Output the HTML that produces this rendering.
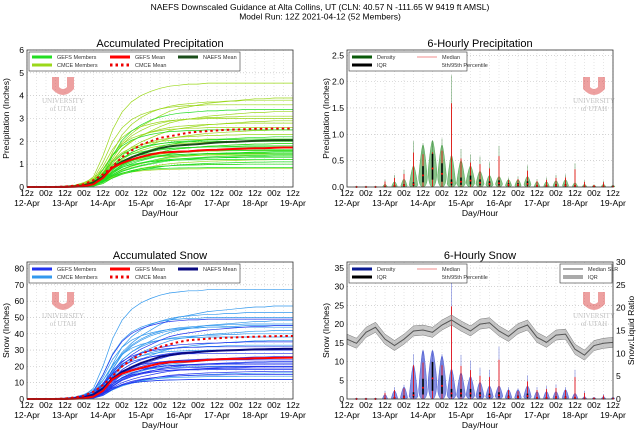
<!DOCTYPE html>
<html><head><meta charset="utf-8"><style>
html,body{margin:0;padding:0;background:#fff;width:640px;height:433px;overflow:hidden}
svg{display:block;font-family:"Liberation Sans","DejaVu Sans",sans-serif}
</style></head><body>
<svg id="c" width="640" height="433" viewBox="0 0 640 433">
<text x="320" y="10" font-size="8.5" text-anchor="middle">NAEFS Downscaled Guidance at Alta Collins, UT (CLN: 40.57 N -111.65 W 9419 ft AMSL)</text>
<text x="320" y="19.5" font-size="8.5" text-anchor="middle">Model Run: 12Z 2021-04-12 (52 Members)</text>
</svg>
<script>
// ---- data ----
const tickHours=["12z","00z","12z","00z","12z","00z","12z","00z","12z","00z","12z","00z","12z","00z","12z"];
const dayLabels=["12-Apr","13-Apr","14-Apr","15-Apr","16-Apr","17-Apr","18-Apr","19-Apr"];
const profileFast=[0,0,0,0,0,.01,.03,.1,.3,.55,.72,.82,.88,.92,.95,.97,.98,.99,.99,1,1,1,1,1,1,1,1,1,1];
const profileMid=[0,0,0,0,0,0,.01,.04,.15,.4,.6,.72,.8,.86,.9,.93,.95,.96,.97,.98,.98,.99,.99,1,1,1,1,1,1];
const profileSlow=[0,0,0,0,.01,.02,.05,.1,.2,.35,.5,.6,.68,.74,.8,.85,.88,.9,.92,.94,.95,.96,.97,.98,.99,.99,1,1,1];
const precipGefsTotals=[0.85,1.0,1.1,1.2,1.3,1.4,1.45,1.5,1.55,1.6,1.65,1.7,1.75,1.8,1.9,2.0,2.1,2.2,2.5,3.4,1.35];
const precipCmceTotals=[0.8,1.0,1.2,1.4,1.6,1.9,2.1,2.3,2.5,2.6,2.8,2.9,3.0,3.1,3.3,3.6,3.8,3.9,4.55,2.0,1.5];
const precipGefsMean=[0,0,0,0,0,0.01,0.04,0.12,0.4,0.85,1.05,1.2,1.32,1.42,1.5,1.53,1.55,1.56,1.6,1.62,1.63,1.65,1.67,1.68,1.7,1.7,1.72,1.73,1.73];
const precipCmceMean=[0,0,0,0,0.02,0.06,0.12,0.3,0.55,0.9,1.3,1.6,1.85,2.0,2.15,2.22,2.3,2.38,2.42,2.45,2.48,2.5,2.52,2.53,2.55,2.55,2.56,2.56,2.56];
const precipNaefsMean=[0,0,0,0,0.01,0.03,0.08,0.2,0.45,0.85,1.1,1.3,1.45,1.58,1.7,1.78,1.82,1.85,1.88,1.92,1.95,1.97,1.98,2.0,2.02,2.03,2.04,2.05,2.05];
const snowGefsTotals=[12,15,17,18,19,20,21,22,23,24,25,26,28,30,31,32,35,45,49,20];
const snowCmceTotals=[12,14,16,20,22,25,30,33,36,38,40,42,44,46,48,50,53,57,67,45];
const snowGefsMean=[0,0,0,0,0,0.1,0.5,1.5,5,12,15.5,17.5,19,20.5,21.8,22.5,22.8,23,23.5,24,24.3,24.5,24.7,24.8,25,25.1,25.2,25.3,25.4];
const snowCmceMean=[0,0,0,0,0.3,1,2,4.5,8.5,14,20,24,27.5,30,32,33.5,35,36,36.5,37,37.3,37.6,37.8,38,38.2,38.4,38.5,38.6,38.6];
const snowNaefsMean=[0,0,0,0,0.1,0.4,1.1,2.8,6.5,12.5,16.5,19.5,22,24,25.8,27,27.8,28.3,28.8,29.3,29.6,29.8,30,30.2,30.4,30.5,30.6,30.7,30.7];
const precipP95=[0.01,0.01,0.01,0.14,0.23,0.33,0.87,0.83,0.88,0.92,2.12,0.72,0.62,0.58,0.47,0.78,0.18,0.2,0.41,0.15,0.18,0.23,0.24,0.45,0.13,0.05,0.12,0.04];
const precipExtent=[0.01,0.01,0.01,0.05,0.1,0.15,0.4,0.8,0.88,0.8,0.6,0.5,0.4,0.3,0.22,0.2,0.14,0.14,0.2,0.1,0.1,0.12,0.14,0.08,0.05,0.03,0.05,0.03];
const precipMedian=[0,0,0,0.01,0.02,0.03,0.05,0.22,0.35,0.25,0.08,0.1,0.12,0.08,0.06,0.07,0.04,0.04,0.06,0.02,0.02,0.03,0.03,0.02,0.01,0.01,0.01,0.01];
const snowP95=[0.3,0.3,0.3,2.2,3.2,3.8,12,13,13,12,33,11.8,10.3,8.3,7.8,14,3.2,2.8,6.3,3.2,3.5,3.9,3.2,7.8,2.2,0.5,1.3,0.6];
const snowExtent=[0.2,0.2,0.2,1.2,2.2,3.2,9,13,13,11.5,8,7,6,4.5,3.5,3.5,2.5,2.5,3.5,2,2,2,2.5,1.5,0.6,0.4,0.6,0.4];
const snowMedian=[0,0,0,0.1,0.3,0.5,1,3,5.5,3.5,1.5,1.5,1.5,1,0.8,1,0.5,0.5,0.8,0.3,0.3,0.4,0.4,0.3,0.1,0.1,0.1,0.1];
const slrMedian=[13.1,12.2,14.6,15.7,13.1,11.7,13.1,14.9,15.1,14.6,16.2,17.3,16.0,14.9,16.4,16.7,14.9,13.7,15.4,16.2,13.5,12.4,14.0,14.2,10.9,9.6,11.7,12.2,12.4];

const svg=document.getElementById('c');
const NS="http://www.w3.org/2000/svg";
function mk(tag,attrs,parent){const e=document.createElementNS(NS,tag);for(const k in attrs)e.setAttribute(k,attrs[k]);(parent||svg).appendChild(e);return e;}
function txt(x,y,s,size,anchor,parent,extra){const t=mk('text',Object.assign({x:x,y:y,'font-size':size,'text-anchor':anchor||'middle'},extra||{}),parent);t.textContent=s;return t;}
const profiles=[profileFast,profileMid,profileSlow];
const FS=8.6;

function panel(o){
  const g=mk('g',{});
  
  
  const X=i=>o.x0+(o.x1-o.x0)*i/28;
  const Y=v=>o.y1-(o.y1-o.y0)*v/o.ymax;
  o.X=X;o.Y=Y;
  mk('rect',{x:o.x0,y:o.y0,width:o.x1-o.x0,height:o.y1-o.y0,fill:'#fff'},g);
  for(let i=0;i<=28;i+=1){mk('line',{x1:X(i),x2:X(i),y1:o.y0,y2:o.y1,stroke:'#ccc','stroke-width':0.5,'stroke-dasharray':'1,2'},g);}
  o.yticks.forEach(v=>{mk('line',{x1:o.x0,x2:o.x1,y1:Y(v),y2:Y(v),stroke:'#bbb','stroke-width':0.6,'stroke-dasharray':'1,2'},g);
    const t=txt(o.x0-3,Y(v)+3,o.fmt(v),FS,'end',g);});
  tickHours.forEach((h,k)=>{const t=txt(X(k*2),o.y1+9,h,FS,'middle',g);});
  dayLabels.forEach((d,k)=>{const t=txt(X(k*4),o.y1+19,d,FS,'middle',g);});
  const xt=txt((o.x0+o.x1)/2,o.y1+29,'Day/Hour',FS,'middle',g);
  
  const yt=txt(0,0,o.ylabel,FS,'middle',g,{transform:`translate(${o.x0-18},${(o.y0+o.y1)/2}) rotate(-90)`});
  
  const tt=txt((o.x0+o.x1)/2,o.y0-3,o.title,11,'middle',g);
  
  const wm=mk('g',{transform:`translate(${o.wx},${o.wy})`,opacity:0.5},g);
  
  mk('path',{d:'M0,0 h7 v10 q4,4 8,0 v-10 h7 v12 q-11,12 -22,0 z',fill:'#d44'},wm);
  txt(11,26,'UNIVERSITY',7,'middle',wm,{fill:'#888','font-family':'Liberation Serif,serif'});
  txt(11,34,'of UTAH',7,'middle',wm,{fill:'#888','font-family':'Liberation Serif,serif'});
  o.g=g;
  return o;
}
function frame(o){mk('rect',{x:o.x0,y:o.y0,width:o.x1-o.x0,height:o.y1-o.y0,fill:'none',stroke:'#333','stroke-width':0.8},o.g);}
function series(o,vals,color,w,dash,name){
  const d=vals.map((v,i)=>(i?'L':'M')+o.X(i).toFixed(1)+','+o.Y(v).toFixed(1)).join('');
  const p=mk('path',{d:d,fill:'none',stroke:color,'stroke-width':w},o.g);
  if(dash)p.setAttribute('stroke-dasharray',dash);
  
  
}
function members(o,totals,color,name){
  totals.forEach((t,k)=>{const prof=profiles[k%3];series(o,prof.map(f=>f*t),color,0.7,null,name);});
}
function legend(o,items,x,y,w,h){
  const lg=mk('g',{},o.g);
  
  mk('rect',{x:x,y:y,width:w,height:h,fill:'#fff',stroke:'#333','stroke-width':0.6},lg);
  items.forEach(it=>{
    const e=mk('g',{},lg);
    
    const l=mk('line',{x1:it.x,x2:it.x+20,y1:it.y,y2:it.y,stroke:it.c,'stroke-width':it.w||3},e);
    if(it.dash)l.setAttribute('stroke-dasharray',it.dash);
    txt(it.x+25,it.y+2,it.t,5.5,'start',e,{fill:'#333'});
  });
}
function violins(o,p95,ext,med,fill,lineC){
  p95.forEach((v,k)=>{
    const i=k+1,cx=o.X(i);
    const vg=mk('g',{},o.g);
    
    const e=ext[k],m=med[k];
    const hw=Math.min(4.6,1.2+Math.sqrt(e/o.ymax)*9);
    const yb=o.Y(0),yt=o.Y(e),ym=o.Y(m);
    mk('path',{d:`M${cx},${yb} C${cx-hw},${yb} ${cx-hw},${ym} ${cx-hw*0.9},${ym} C${cx-hw*0.6},${(ym+yt)/2} ${cx-1},${yt} ${cx},${yt} C${cx+1},${yt} ${cx+hw*0.6},${(ym+yt)/2} ${cx+hw*0.9},${ym} C${cx+hw},${ym} ${cx+hw},${yb} ${cx},${yb}Z`,fill:fill,'fill-opacity':0.6,stroke:fill,'stroke-width':0.4},vg);
    mk('line',{x1:cx,x2:cx,y1:yb,y2:o.Y(v),stroke:lineC,'stroke-width':0.8,opacity:0.5},vg);
    mk('line',{x1:cx,x2:cx,y1:yb,y2:o.Y(v*0.75),stroke:'#e00','stroke-width':0.8},vg);
    mk('line',{x1:cx,x2:cx,y1:o.Y(m*0.4),y2:o.Y(m*1.8),stroke:'#000','stroke-width':1.6},vg);
    mk('circle',{cx:cx,cy:o.Y(m),r:1,fill:'#f00'},vg);
  });
}

const p1=panel({name:'accumulated-precipitation-panel',x0:27,x1:293,y0:50,y1:187,ymax:6,yticks:[0,1,2,3,4,5,6],fmt:v=>v,ylabel:'Precipitation (Inches)',title:'Accumulated Precipitation',wx:52,wy:77});
members(p1,precipCmceTotals,'#9bd81a','cmce-member-line');
members(p1,precipGefsTotals,'#22dd22','gefs-member-line');
series(p1,precipNaefsMean,'#1a4d1a',2,null,'naefs-mean-line');
series(p1,precipGefsMean,'#f00',2,null,'gefs-mean-line');
series(p1,precipCmceMean,'#e00',2,'2.5,3','cmce-mean-line');
legend(p1,[{x:32,y:57,t:'GEFS Members',c:'#22dd22'},{x:32,y:65,t:'CMCE Members',c:'#9bd81a'},{x:110,y:57,t:'GEFS Mean',c:'#f00'},{x:110,y:65,t:'CMCE Mean',c:'#e00',dash:'2.5,3'},{x:178,y:57,t:'NAEFS Mean',c:'#1a4d1a'}],29,52,211,19);
frame(p1);

const p2=panel({name:'six-hourly-precipitation-panel',x0:347,x1:613,y0:50,y1:187,ymax:2.6,yticks:[0,0.5,1,1.5,2,2.5],fmt:v=>v.toFixed(1),ylabel:'Precipitation (Inches)',title:'6-Hourly Precipitation',wx:583,wy:77});
violins(p2,precipP95,precipExtent,precipMedian,'#3a9a3a','#2a7a2a');
legend(p2,[{x:352,y:57,t:'Density',c:'#0a5a0a'},{x:352,y:65,t:'IQR',c:'#000'},{x:417,y:57,t:'Median',c:'#e66',w:0.8},{x:417,y:65,t:'5th/95th Percentile',c:'#fff',w:0.1}],349,52,118,19);
frame(p2);

const p3=panel({name:'accumulated-snow-panel',x0:27,x1:293,y0:262,y1:399,ymax:84,yticks:[0,10,20,30,40,50,60,70,80],fmt:v=>v,ylabel:'Snow (Inches)',title:'Accumulated Snow',wx:52,wy:292});
members(p3,snowCmceTotals,'#3399ee','cmce-member-line');
members(p3,snowGefsTotals,'#2233ee','gefs-member-line');
series(p3,snowNaefsMean,'#0a0a80',2,null,'naefs-mean-line');
series(p3,snowGefsMean,'#f00',2,null,'gefs-mean-line');
series(p3,snowCmceMean,'#e00',2,'2.5,3','cmce-mean-line');
legend(p3,[{x:32,y:269,t:'GEFS Members',c:'#2233ee'},{x:32,y:277,t:'CMCE Members',c:'#3399ee'},{x:110,y:269,t:'GEFS Mean',c:'#f00'},{x:110,y:277,t:'CMCE Mean',c:'#e00',dash:'2.5,3'},{x:178,y:269,t:'NAEFS Mean',c:'#0a0a80'}],29,264,211,19);
frame(p3);

const p4=panel({name:'six-hourly-snow-panel',x0:347,x1:613,y0:262,y1:399,ymax:36.6,yticks:[0,5,10,15,20,25,30,35],fmt:v=>v,ylabel:'Snow (Inches)',title:'6-Hourly Snow',wx:583,wy:292});
violins(p4,snowP95,snowExtent,snowMedian,'#3344cc','#3344cc');
const Yr=v=>p4.y1-(p4.y1-p4.y0)*v/30;
const up=slrMedian.map((v,i)=>p4.X(i)+','+Yr(v+1.1));
const dn=slrMedian.map((v,i)=>p4.X(i)+','+Yr(v-1.1)).reverse();
const band=mk('polygon',{points:up.concat(dn).join(' '),fill:'#999','fill-opacity':0.55,stroke:'#777','stroke-width':0.5},p4.g);

const sl=mk('path',{d:slrMedian.map((v,i)=>(i?'L':'M')+p4.X(i)+','+Yr(v)).join(''),fill:'none',stroke:'#555','stroke-width':1},p4.g);

[0,5,10,15,20,25,30].forEach(v=>{const t=txt(p4.x1+3,Yr(v)+3,v,FS,'start',p4.g);});
const ry=txt(0,0,'Snow:Liquid Ratio',FS,'middle',p4.g,{transform:`translate(${p4.x1+21},${(p4.y0+p4.y1)/2}) rotate(-90)`});

legend(p4,[{x:352,y:269,t:'Density',c:'#0a1a90'},{x:352,y:277,t:'IQR',c:'#000'},{x:417,y:269,t:'Median',c:'#e66',w:0.8},{x:417,y:277,t:'5th/95th Percentile',c:'#fff',w:0.1}],349,264,118,19);
legend(p4,[{x:563,y:269,t:'Median SLR',c:'#555',w:1},{x:563,y:277,t:'IQR',c:'#aaa',w:4}],560,264,52,19);
frame(p4);
</script>
</body></html>
